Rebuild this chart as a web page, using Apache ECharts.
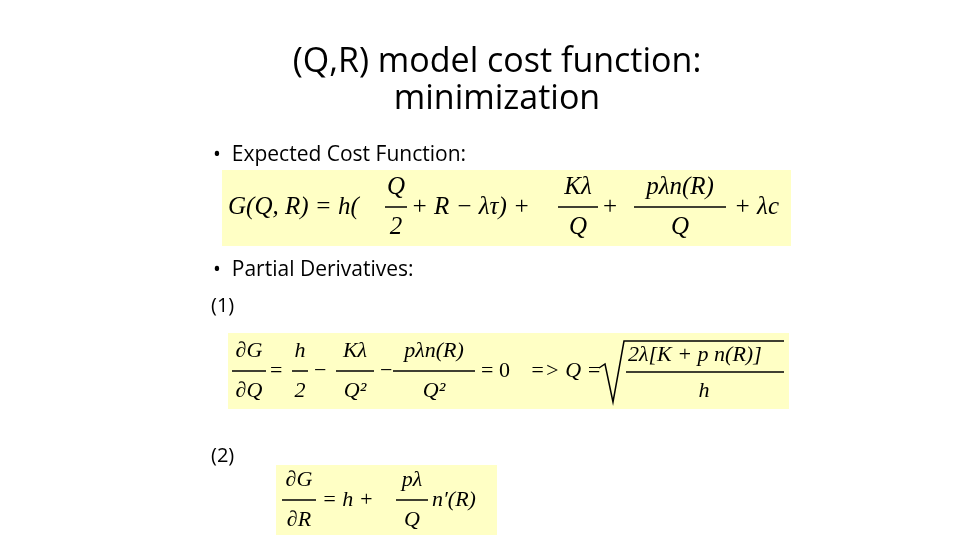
<!DOCTYPE html>
<html><head><meta charset="utf-8">
<script src="https://cdn.jsdelivr.net/npm/echarts@6/dist/echarts.min.js"></script>
<style>html,body{margin:0;padding:0;background:#fff}#c{width:960px;height:540px}</style>
</head><body><div id="c"></div>
<script>
const titleLines = ['(Q,R) model cost function:', 'minimization'];
const bulletTexts = ['•  Expected Cost Function:', '•  Partial Derivatives:'];
const labels = ['(1)', '(2)'];
const boxColor = '#FFFFC5';
const chart = echarts.init(document.getElementById('c'));
const els = [];
const SF = '"Liberation Serif","DejaVu Serif",serif';
const SS = '"Open Sans","Liberation Sans",sans-serif';
function t(x, y, s, size, opt) {
  opt = opt || {};
  els.push({type:'text', x:x, y:y, style:{text:s, fontSize:size, fontFamily:opt.ff||SF,
    fontStyle:opt.it?'italic':'normal', fill:'#000', align:opt.al||'left', verticalAlign:'middle'}});
}
function ln(x1,y1,x2,y2,w){els.push({type:'line',shape:{x1,y1,x2,y2},style:{stroke:'#000',lineWidth:w||1.5}});}
function rect(x,y,w,h){els.push({type:'rect',shape:{x,y,width:w,height:h},style:{fill:boxColor}});}
function frac(cx, y, num, den, w, size, it){
  t(cx, y-20, num, size, {al:'center', it:it});
  ln(cx-w/2, y, cx+w/2, y);
  t(cx, y+20, den, size, {al:'center', it:it});
}
t(497, 62, titleLines[0], 34, {ff:SS, al:'center'});
t(497, 99, titleLines[1], 34, {ff:SS, al:'center'});
t(213, 155, bulletTexts[0], 21, {ff:SS});
t(213, 270, bulletTexts[1], 21, {ff:SS});
t(211, 306, labels[0], 20, {ff:SS});
t(211, 456, labels[1], 20, {ff:SS});
// box 1
rect(222,170,569,76);
const y1 = 207;
t(228, y1, 'G(Q, R) = h(', 25, {it:true});
frac(396, y1, 'Q', '2', 22, 25, true);
t(411, y1, '+ R − λτ) +', 25, {it:true});
frac(578, y1, 'Kλ', 'Q', 40, 25, true);
t(603, y1, '+', 25);
frac(680, y1, 'pλn(R)', 'Q', 92, 25, true);
t(734, y1, '+ λc', 25, {it:true});
// box 2
rect(228,333,561,76);
const y2 = 371;
frac(249, y2, '∂G', '∂Q', 34, 22, true);
t(270, y2, '=', 22);
frac(300, y2, 'h', '2', 16, 22, true);
t(314, y2, '−', 22);
frac(355, y2, 'Kλ', 'Q²', 38, 22, true);
t(380, y2, '−', 22);
frac(434, y2, 'pλn(R)', 'Q²', 82, 22, true);
t(481, y2, '= 0', 22);
t(530, y2, '=> Q =', 22, {it:true});
els.push({type:'polyline',shape:{points:[[599,368],[605,364],[613,402],[624,341],[784,341]]},style:{stroke:'#000',lineWidth:1.5,fill:'none'}});
t(628, 355, '2λ[K + p n(R)]', 22, {it:true});
ln(626, 372, 784, 372);
t(704, 391, 'h', 22, {it:true, al:'center'});
// box 3
rect(276,465,221,70);
const y3 = 500;
frac(299, y3, '∂G', '∂R', 34, 22, true);
t(322, y3, '= h +', 22, {it:true});
frac(412, y3, 'pλ', 'Q', 32, 22, true);
t(432, y3, 'n′(R)', 22, {it:true});
chart.setOption({animation:false, graphic:{elements:els}});
</script></body></html>
